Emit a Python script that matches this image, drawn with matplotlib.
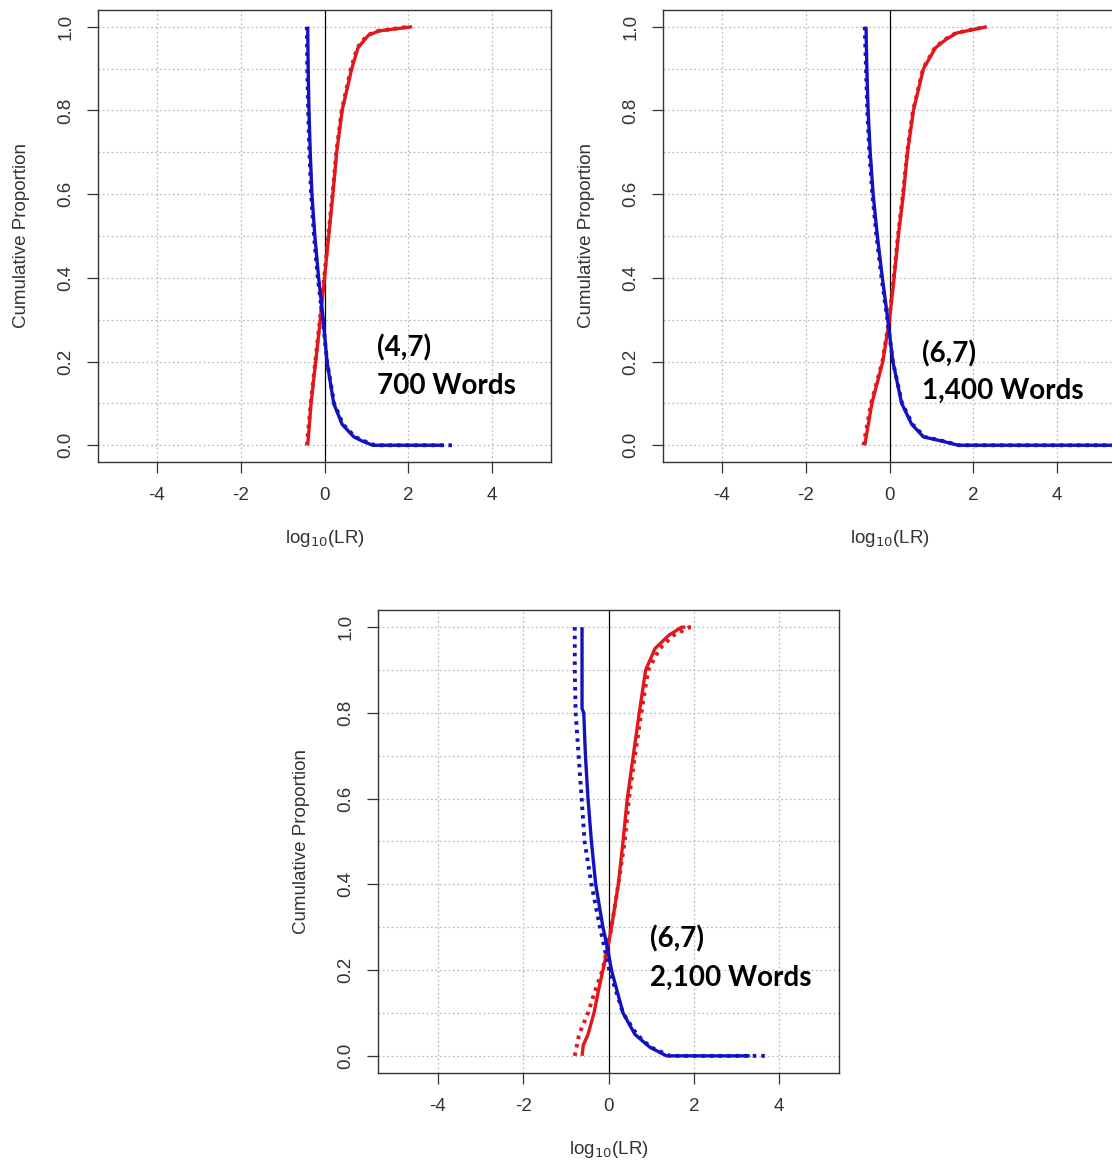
import matplotlib
matplotlib.use("Agg")
import matplotlib.pyplot as plt

# ---------------- data ----------------
# Panel 1: (4,7) 700 Words
p1_red_solid_x = [-0.40, -0.32, -0.21, -0.10, 0.00, 0.10, 0.20, 0.29, 0.42, 0.65, 0.80, 1.05, 1.30, 2.09]
p1_red_solid_y = [0.00, 0.10, 0.20, 0.30, 0.40, 0.50, 0.60, 0.70, 0.80, 0.90, 0.95, 0.98, 0.99, 1.00]
p1_red_dot_x = [-0.42, -0.33, -0.22, -0.11, -0.01, 0.09, 0.19, 0.28, 0.41, 0.63, 0.78, 1.02, 1.28, 2.00]
p1_red_dot_y = [0.00, 0.10, 0.20, 0.30, 0.40, 0.50, 0.60, 0.70, 0.80, 0.90, 0.95, 0.98, 0.99, 1.00]
p1_blue_solid_x = [-0.40, -0.39, -0.37, -0.34, -0.30, -0.23, -0.14, -0.03, 0.06, 0.22, 0.42, 0.70, 0.90, 1.15, 2.85]
p1_blue_solid_y = [1.00, 0.90, 0.80, 0.70, 0.60, 0.50, 0.40, 0.30, 0.20, 0.10, 0.05, 0.02, 0.01, 0.00, 0.00]
p1_blue_dot_x = [-0.42, -0.41, -0.39, -0.36, -0.32, -0.25, -0.16, -0.04, 0.06, 0.23, 0.44, 0.73, 0.95, 1.20, 2.90, 3.15]
p1_blue_dot_y = [1.00, 0.90, 0.80, 0.70, 0.60, 0.50, 0.40, 0.30, 0.20, 0.10, 0.05, 0.02, 0.01, 0.00, 0.00, 0.00]

# Panel 2: (6,7) 1,400 Words
p2_red_solid_x = [-0.59, -0.42, -0.16, 0.00, 0.11, 0.21, 0.33, 0.43, 0.57, 0.81, 1.10, 1.35, 1.60, 2.32]
p2_red_solid_y = [0.00, 0.10, 0.20, 0.30, 0.40, 0.50, 0.60, 0.70, 0.80, 0.90, 0.95, 0.97, 0.985, 1.00]
p2_red_dot_x = [-0.62, -0.44, -0.17, -0.01, 0.10, 0.20, 0.32, 0.42, 0.56, 0.80, 1.08, 1.33, 1.58, 2.30]
p2_red_dot_y = [0.00, 0.10, 0.20, 0.30, 0.40, 0.50, 0.60, 0.70, 0.80, 0.90, 0.95, 0.97, 0.985, 1.00]
p2_blue_solid_x = [-0.56, -0.54, -0.51, -0.46, -0.39, -0.29, -0.17, -0.04, 0.08, 0.29, 0.53, 0.81, 1.25, 1.64, 5.30]
p2_blue_solid_y = [1.00, 0.90, 0.80, 0.70, 0.60, 0.50, 0.40, 0.30, 0.20, 0.10, 0.05, 0.02, 0.01, 0.00, 0.00]
p2_blue_dot_x = [-0.59, -0.56, -0.53, -0.48, -0.41, -0.31, -0.19, -0.05, 0.08, 0.30, 0.55, 0.84, 1.28, 1.66, 5.30]
p2_blue_dot_y = [1.00, 0.90, 0.80, 0.70, 0.60, 0.50, 0.40, 0.30, 0.20, 0.10, 0.05, 0.02, 0.01, 0.00, 0.00]

# Panel 3: (6,7) 2,100 Words
p3_red_solid_x = [-0.62, -0.59, -0.48, -0.34, -0.24, -0.13, -0.02, 0.07, 0.23, 0.34, 0.44, 0.58, 0.72, 0.87, 1.09, 1.40, 1.71, 1.80]
p3_red_solid_y = [0.00, 0.025, 0.05, 0.10, 0.15, 0.20, 0.25, 0.30, 0.40, 0.50, 0.60, 0.70, 0.80, 0.90, 0.95, 0.98, 1.00, 1.00]
p3_red_dot_x = [-0.79, -0.69, -0.48, -0.32, -0.14, 0.07, 0.23, 0.38, 0.48, 0.62, 0.77, 0.93, 1.20, 1.51, 1.90, 2.01]
p3_red_dot_y = [0.00, 0.05, 0.10, 0.15, 0.20, 0.30, 0.40, 0.50, 0.60, 0.70, 0.80, 0.90, 0.95, 0.98, 1.00, 1.00]
p3_blue_solid_x = [-0.62, -0.62, -0.58, -0.54, -0.48, -0.40, -0.30, -0.13, -0.02, 0.07, 0.34, 0.62, 0.97, 1.36, 3.31]
p3_blue_solid_y = [1.00, 0.81, 0.80, 0.70, 0.60, 0.50, 0.40, 0.30, 0.25, 0.20, 0.10, 0.05, 0.02, 0.00, 0.00]
p3_blue_dot_x = [-0.79, -0.79, -0.77, -0.70, -0.63, -0.56, -0.40, -0.20, 0.02, 0.34, 0.66, 0.99, 1.44, 3.47, 3.78]
p3_blue_dot_y = [1.00, 0.90, 0.80, 0.70, 0.60, 0.50, 0.40, 0.30, 0.20, 0.10, 0.05, 0.02, 0.00, 0.00, 0.00]

panel_labels = [("(4,7)", "700 Words"), ("(6,7)", "1,400 Words"), ("(6,7)", "2,100 Words")]
label_pos = [(1.24, 0.232, 0.141), (0.77, 0.218, 0.129), (0.98, 0.274, 0.183)]

x_ticks = [-4, -2, 0, 2, 4]
y_ticks = [0.0, 0.2, 0.4, 0.6, 0.8, 1.0]
y_grid = [0.0, 0.1, 0.2, 0.3, 0.4, 0.5, 0.6, 0.7, 0.8, 0.9, 1.0]

# ---------------- styling ----------------
RED = "#e2161b"
BLUE = "#1212c0"
TXT = "#333333"
plt.rcParams["font.family"] = ["Liberation Sans", "DejaVu Sans"]

fig = plt.figure(figsize=(11.12, 11.64), dpi=100)
W, H = 1112.0, 1164.0

def make_ax(left, top, right, bottom):
    return fig.add_axes([left / W, (H - bottom) / H, (right - left) / W, (bottom - top) / H])

axes = [make_ax(98, 10, 551, 462), make_ax(663, 10, 1116, 462), make_ax(378, 610, 839, 1073)]

series = [
    (p1_red_solid_x, p1_red_solid_y, p1_red_dot_x, p1_red_dot_y,
     p1_blue_solid_x, p1_blue_solid_y, p1_blue_dot_x, p1_blue_dot_y),
    (p2_red_solid_x, p2_red_solid_y, p2_red_dot_x, p2_red_dot_y,
     p2_blue_solid_x, p2_blue_solid_y, p2_blue_dot_x, p2_blue_dot_y),
    (p3_red_solid_x, p3_red_solid_y, p3_red_dot_x, p3_red_dot_y,
     p3_blue_solid_x, p3_blue_solid_y, p3_blue_dot_x, p3_blue_dot_y),
]

DOT = (0, (0.9, 1.3))

for i, ax in enumerate(axes):
    rsx, rsy, rdx, rdy, bsx, bsy, bdx, bdy = series[i]
    ax.set_xlim(-5.4, 5.4)
    ax.set_ylim(-0.04, 1.04)
    # grid
    for g in y_grid:
        ax.axhline(g, color="#bdbdbd", lw=0.9, ls=(0, (1.5, 2)), zorder=0)
    for g in x_ticks:
        if g != 0:
            ax.axvline(g, color="#bdbdbd", lw=0.9, ls=(0, (1.5, 2)), zorder=0)
    ax.axvline(0, color="black", lw=0.9, zorder=1)
    # curves
    ax.plot(rsx, rsy, color=RED, lw=2.4, solid_capstyle="butt", zorder=3)
    ax.plot(rdx, rdy, color=RED, lw=2.8, ls=DOT, zorder=3)
    ax.plot(bsx, bsy, color=BLUE, lw=2.4, solid_capstyle="butt", zorder=3)
    ax.plot(bdx, bdy, color=BLUE, lw=2.8, ls=DOT, zorder=3)
    # ticks
    ax.set_xticks(x_ticks)
    ax.set_xticklabels([str(t) for t in x_ticks])
    ax.set_yticks(y_ticks)
    ax.set_yticklabels([f"{t:.1f}" for t in y_ticks], rotation=90, va="center")
    ax.tick_params(axis="both", direction="out", length=8, width=0.9, colors="#333333",
                   labelcolor=TXT, labelsize=13.5)
    ax.tick_params(axis="x", pad=10)
    ax.tick_params(axis="y", pad=9)
    for s in ax.spines.values():
        s.set_color("#333333")
        s.set_linewidth(1.0)
    ax.set_xlabel(r"log$_{10}$(LR)", fontsize=13.5, color=TXT, labelpad=17)
    ax.set_ylabel("Cumulative Proportion", fontsize=13.5, color=TXT, labelpad=20)
    # annotation
    l1, l2 = panel_labels[i]
    lx, ly1, ly2 = label_pos[i]
    ax.text(lx, ly1, l1, fontsize=20, fontweight="bold", family=["Lato", "DejaVu Sans"],
            va="center", ha="left", color="black", zorder=5)
    ax.text(lx, ly2, l2, fontsize=20, fontweight="bold", family=["Lato", "DejaVu Sans"],
            va="center", ha="left", color="black", zorder=5)

fig.savefig("out.png", dpi=100)
